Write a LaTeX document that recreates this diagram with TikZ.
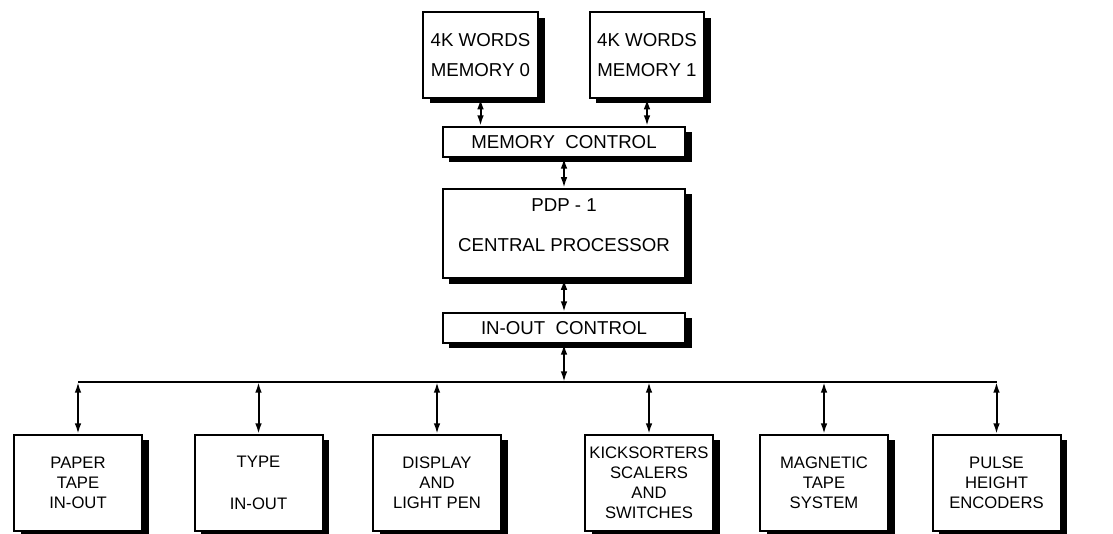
\documentclass[tikz,border=0pt]{standalone}
\usepackage{fontspec}
\setmainfont{Liberation Sans}
\usetikzlibrary{shadows,arrows.meta}

\tikzset{
  blk/.style={draw, line width=1.5pt, fill=white, align=center, inner sep=1pt,
    font=\fontsize{14}{17}\selectfont,
    drop shadow={shadow xshift=5pt, shadow yshift=-4pt, fill=black, opacity=1}},
  unit/.style={blk, minimum width=96pt, minimum height=72pt, font=\fontsize{12.5}{15}\selectfont},
  link/.style={<->, >={Latex[length=8pt,width=5pt]}, line width=1.5pt},
}

\begin{document}
\begin{tikzpicture}[x=0.75pt,y=0.75pt,yscale=-1,xscale=1]
\useasboundingbox (0,0) rectangle (1113,533);

%Memory banks
\node [blk, minimum width=86pt, minimum height=64pt] (mem0) at (480.5,55) {4K WORDS\\[6pt]MEMORY 0};
\node [blk, minimum width=86pt, minimum height=64pt] (mem1) at (647,55) {4K WORDS\\[6pt]MEMORY 1};
%Control and processor
\node [blk, minimum width=182pt, minimum height=22.5pt] (memctl) at (564,142) {MEMORY\ \ CONTROL};
\node [blk, minimum width=182pt, minimum height=67pt] (cpu) at (564,233.5) {PDP - 1\\[13pt]CENTRAL PROCESSOR\\[-4pt]\mbox{}};
\node [blk, minimum width=182pt, minimum height=22.5pt] (ioctl) at (564,328) {IN-OUT\ \ CONTROL};
\coordinate (bus) at (564,382);

%Devices
\node [unit] (ptape) at (78,483) {PAPER\\TAPE\\IN-OUT};
\node [unit] (type) at (258.5,483) {TYPE\\[16pt]IN-OUT};
\node [unit] (disp) at (437,483) {DISPLAY\\AND\\LIGHT PEN};
\node [unit] (kick) at (649,483) {KICKSORTERS\\SCALERS\\AND\\SWITCHES};
\node [unit] (magt) at (824,483) {MAGNETIC\\TAPE\\SYSTEM};
\node [unit] (pulse) at (996.5,483) {PULSE\\HEIGHT\\ENCODERS};

%Straight Lines
\draw [link] (mem0.south) -- (mem0.south |- memctl.north);
\draw [link] (mem1.south) -- (mem1.south |- memctl.north);
\draw [link] (memctl.south) -- (cpu.north);
\draw [link] (cpu.south) -- (ioctl.north);
\draw [link] (ioctl.south) -- (bus);
%Bus line
\draw [line width=1.2pt] (ptape.north |- bus) -- (pulse.north |- bus);
\draw [link] (ptape.north |- bus) -- (ptape.north);
\draw [link] (type.north |- bus) -- (type.north);
\draw [link] (disp.north |- bus) -- (disp.north);
\draw [link] (kick.north |- bus) -- (kick.north);
\draw [link] (magt.north |- bus) -- (magt.north);
\draw [link] (pulse.north |- bus) -- (pulse.north);

\end{tikzpicture}
\end{document}
